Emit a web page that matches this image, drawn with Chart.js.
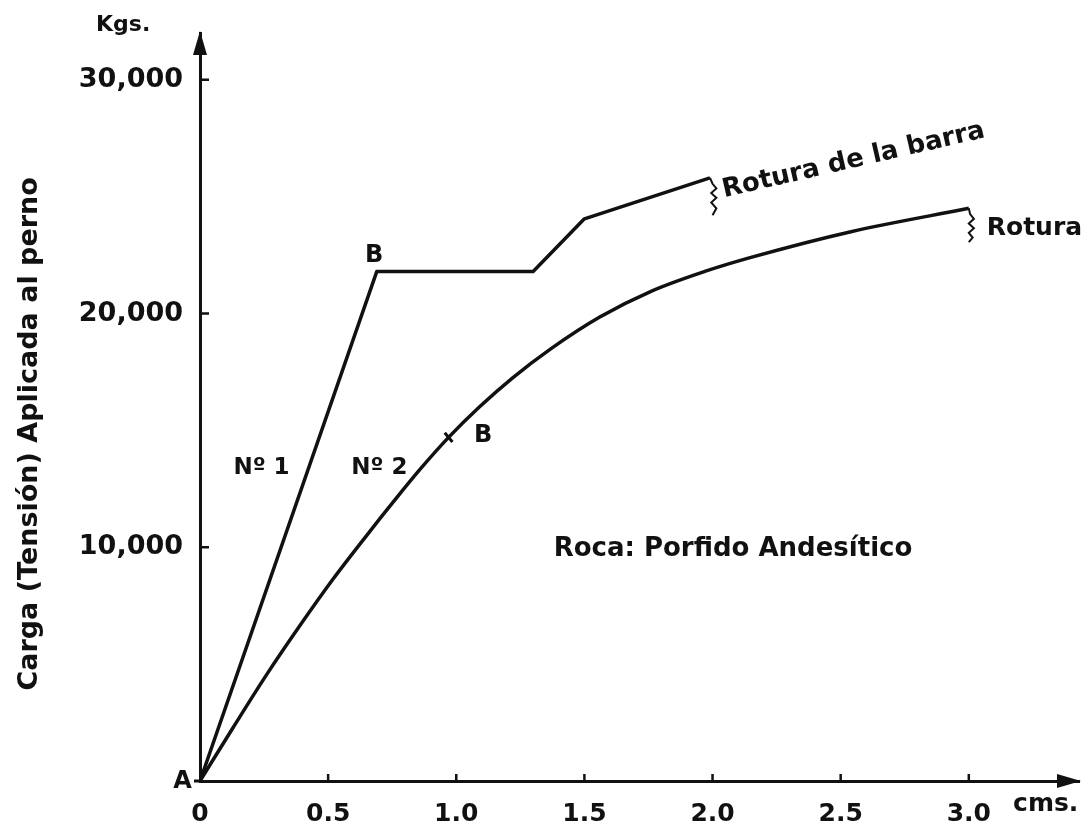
<!DOCTYPE html>
<html>
<head>
<meta charset="utf-8">
<script src="https://cdn.jsdelivr.net/npm/chart.js@4.4.1/dist/chart.umd.min.js"></script>
<style>
  body { margin: 0; background: #fff; }
  #wrap { width: 1092px; height: 823px; }
</style>
</head>
<body>
<div id="wrap"><canvas id="loadChart"></canvas></div>
<script>
// deformation (cm) vs applied load (kg)
var xTicks = [0, 0.5, 1.0, 1.5, 2.0, 2.5, 3.0];
var xTickLabels = ['0', '0.5', '1.0', '1.5', '2.0', '2.5', '3.0'];
var yTicks = [10000, 20000, 30000];
var yTickLabels = ['10,000', '20,000', '30,000'];

// perno Nº 1
var no1X = [0, 0.69, 1.30, 1.50, 1.99];
var no1Y = [0, 21800, 21800, 24050, 25800];
// break squiggle at end of Nº 1
var break1X = [1.99, 2.00, 2.015, 1.995, 2.015, 1.995, 2.015, 2.00];
var break1Y = [25800, 25550, 25350, 25150, 24950, 24750, 24500, 24200];

// perno Nº 2
var no2X = [0, 0.13, 0.26, 0.39, 0.52, 0.65, 0.755, 0.86, 0.97, 1.09, 1.22, 1.37, 1.56, 1.76, 1.97, 2.15, 2.54, 3.0];
var no2Y = [0, 2300, 4550, 6650, 8650, 10500, 11950, 13350, 14700, 16000, 17250, 18500, 19850, 20950, 21800, 22400, 23500, 24500];
var break2X = [3.0, 3.005, 3.02, 3.0, 3.02, 3.0, 3.015, 3.0];
var break2Y = [24500, 24250, 24050, 23850, 23650, 23450, 23250, 23050];

// yield point B on Nº 2
var bMarkX = [0.97];
var bMarkY = [14700];

function pts(xs, ys) {
    return xs.map(function (x, i) { return { x: x, y: ys[i] }; });
}

var ink = '#111';
var font = '"DejaVu Sans", sans-serif';

// text placed in data coordinates
var notes = [
    { text: 'B', x: 0.68, y: 22450, size: 24, align: 'center' },
    { text: 'B', x: 1.105, y: 14750, size: 24, align: 'center' },
    { text: 'Nº 1', x: 0.24, y: 13400, size: 23, align: 'center' },
    { text: 'Nº 2', x: 0.70, y: 13400, size: 23, align: 'center' },
    { text: 'Rotura', x: 3.07, y: 23650, size: 25, align: 'left' },
    { text: 'Roca: Porfido Andesítico', x: 1.38, y: 9900, size: 26, align: 'left' },
    { text: 'A', x: -0.068, y: -50, size: 24, align: 'center' },
    { text: 'cms.', x: 3.30, y: -1000, size: 25, align: 'center' },
    { text: 'Kgs.', x: -0.30, y: 32350, size: 22, align: 'center' }
];

var decor = {
    id: 'decor',
    afterDraw: function (chart) {
        var ctx = chart.ctx;
        var xs = chart.scales.x, ys = chart.scales.y;
        var left = xs.left, bottom = ys.bottom;
        ctx.save();
        ctx.strokeStyle = ink;
        ctx.fillStyle = ink;
        ctx.lineWidth = 2.5;

        // inner tick marks
        yTicks.forEach(function (v) {
            var p = ys.getPixelForValue(v);
            ctx.beginPath(); ctx.moveTo(left, p); ctx.lineTo(left + 9, p); ctx.stroke();
        });
        xTicks.slice(1).forEach(function (v) {
            var p = xs.getPixelForValue(v);
            ctx.beginPath(); ctx.moveTo(p, bottom); ctx.lineTo(p, bottom - 7); ctx.stroke();
        });

        // axis arrows
        var top = ys.top, right = xs.right;
        ctx.beginPath();
        ctx.moveTo(left, top - 2); ctx.lineTo(left - 7, top + 22); ctx.lineTo(left + 7, top + 22);
        ctx.closePath(); ctx.fill();
        ctx.beginPath();
        ctx.moveTo(right + 2, bottom); ctx.lineTo(right - 22, bottom - 7); ctx.lineTo(right - 22, bottom + 7);
        ctx.closePath(); ctx.fill();
        // x axis stub left of origin
        ctx.lineWidth = 3;
        ctx.beginPath(); ctx.moveTo(left - 6, bottom); ctx.lineTo(left, bottom); ctx.stroke();

        // notes
        ctx.textBaseline = 'middle';
        notes.forEach(function (n) {
            ctx.font = 'bold ' + n.size + 'px ' + font;
            ctx.textAlign = n.align;
            ctx.fillText(n.text, xs.getPixelForValue(n.x), ys.getPixelForValue(n.y));
        });

        // slanted label over Nº 1 break
        ctx.save();
        ctx.translate(xs.getPixelForValue(2.04), ys.getPixelForValue(25250));
        ctx.rotate(-13 * Math.PI / 180);
        ctx.font = 'bold 26px ' + font;
        ctx.textAlign = 'left';
        ctx.fillText('Rotura de la barra', 0, 0);
        ctx.restore();

        // y axis title
        ctx.save();
        ctx.translate(ys.left + 30, ys.getPixelForValue(14850));
        ctx.rotate(-Math.PI / 2);
        ctx.font = 'bold 27px ' + font;
        ctx.textAlign = 'center';
        ctx.fillText('Carga (Tensión) Aplicada al perno', 0, 0);
        ctx.restore();

        ctx.restore();
    }
};

var ctx = document.getElementById('loadChart').getContext('2d');
var myChart = new Chart(ctx, {
    type: 'scatter',
    data: {
        datasets: [{
            label: 'Nº 1',
            data: pts(no1X, no1Y),
            showLine: true,
            borderColor: ink,
            borderWidth: 3.5,
            pointRadius: 0,
            borderJoinStyle: 'round'
        }, {
            label: 'Nº 1 rotura',
            data: pts(break1X, break1Y),
            showLine: true,
            borderColor: ink,
            borderWidth: 2,
            pointRadius: 0
        }, {
            label: 'Nº 2',
            data: pts(no2X, no2Y),
            showLine: true,
            cubicInterpolationMode: 'monotone',
            borderColor: ink,
            borderWidth: 3.5,
            pointRadius: 0
        }, {
            label: 'Nº 2 rotura',
            data: pts(break2X, break2Y),
            showLine: true,
            borderColor: ink,
            borderWidth: 2,
            pointRadius: 0
        }, {
            label: 'B',
            data: pts(bMarkX, bMarkY),
            pointStyle: 'line',
            rotation: 50,
            pointRadius: 6,
            borderColor: ink,
            borderWidth: 3
        }]
    },
    options: {
        responsive: true,
        maintainAspectRatio: false,
        animation: false,
        layout: { padding: { top: 33, right: 13, left: 0, bottom: 0 } },
        plugins: { legend: { display: false }, tooltip: { enabled: false } },
        scales: {
            x: {
                type: 'linear',
                min: 0,
                max: 3.43,
                afterFit: function (s) { s.height = 42; },
                afterBuildTicks: function (s) { s.ticks = xTicks.map(function (v) { return { value: v }; }); },
                grid: { display: false },
                border: { display: true, color: ink, width: 3 },
                ticks: {
                    autoSkip: false,
                    maxRotation: 0,
                    padding: 10,
                    color: ink,
                    font: { family: font, size: 25, weight: 'bold' },
                    callback: function (v) { return xTickLabels[xTicks.indexOf(v)]; }
                }
            },
            y: {
                min: 0,
                max: 32000,
                afterFit: function (s) { s.width = 200; },
                afterBuildTicks: function (s) { s.ticks = yTicks.map(function (v) { return { value: v }; }); },
                grid: { display: false },
                border: { display: true, color: ink, width: 3 },
                ticks: {
                    autoSkip: false,
                    padding: 9,
                    color: ink,
                    font: { family: font, size: 27, weight: 'bold' },
                    callback: function (v) { return yTickLabels[yTicks.indexOf(v)]; }
                }
            }
        }
    },
    plugins: [decor]
});
</script>
</body>
</html>
